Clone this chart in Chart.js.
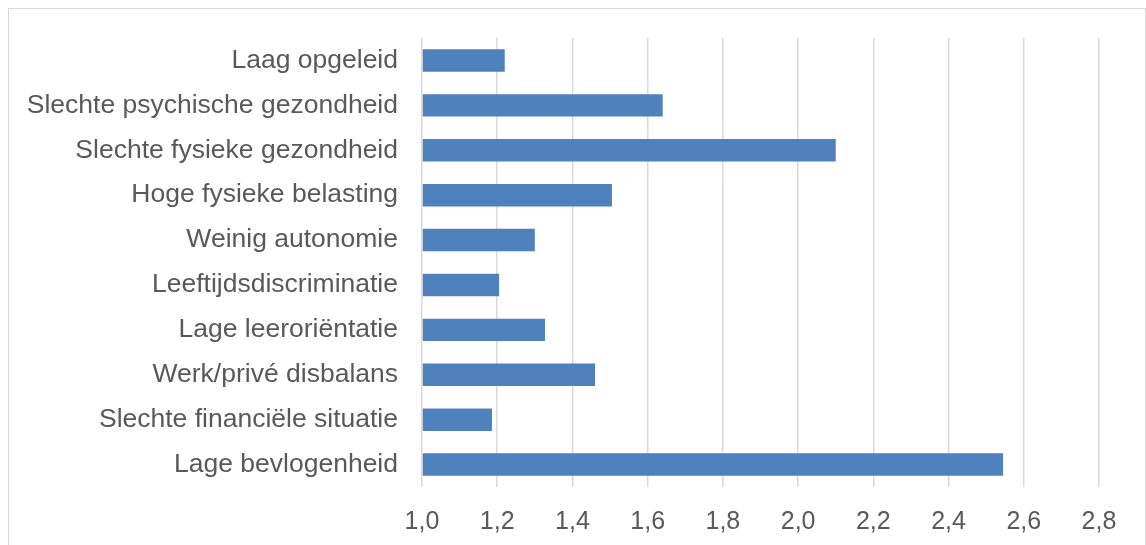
<!DOCTYPE html>
<html>
<head>
<meta charset="utf-8">
<script src="https://cdn.jsdelivr.net/npm/chart.js@4.4.1/dist/chart.umd.min.js"></script>
<style>
    html, body { margin: 0; padding: 0; background: #fff; overflow: hidden; }
    #frame {
        position: absolute; left: 8px; top: 8px;
        width: 1136px; height: 560px;
        border: 1px solid #d9d9d9;
    }
    #chart-box { position: absolute; left: 0; top: 0; width: 1136px; height: 536px; }
</style>
</head>
<body>
<div id="frame">
    <div id="chart-box"><canvas id="riskChart"></canvas></div>
</div>
<script>
// categories, top to bottom as in the picture
const categories = [
    "Laag opgeleid",
    "Slechte psychische gezondheid",
    "Slechte fysieke gezondheid",
    "Hoge fysieke belasting",
    "Weinig autonomie",
    "Leeftijdsdiscriminatie",
    "Lage leeroriëntatie",
    "Werk/privé disbalans",
    "Slechte financiële situatie",
    "Lage bevlogenheid"
];
const values = [1.22, 1.64, 2.10, 1.505, 1.30, 1.205, 1.327, 1.46, 1.186, 2.545];
const xTicks = [1.0, 1.2, 1.4, 1.6, 1.8, 2.0, 2.2, 2.4, 2.6, 2.8];

const textColor = "#595959";
const gridColor = "#d9d9d9";

let ctx = document.getElementById("riskChart").getContext("2d");
new Chart(ctx, {
    type: "bar",
    data: {
        labels: categories,
        datasets: [{
            data: values,
            base: 1,
            backgroundColor: "#4f81bd",
            borderWidth: 0,
            barPercentage: 0.5,
            categoryPercentage: 1.0
        }]
    },
    options: {
        indexAxis: "y",
        responsive: true,
        maintainAspectRatio: false,
        animation: false,
        layout: { padding: { top: 29, right: 46, bottom: 0, left: 0 } },
        plugins: { legend: { display: false }, tooltip: { enabled: false } },
        scales: {
            x: {
                min: 1.0,
                max: 2.8,
                afterBuildTicks: axis => { axis.ticks = xTicks.map(v => ({ value: v })); },
                afterFit: axis => { axis.height = 58; },
                grid: { color: gridColor, lineWidth: 1.5, drawTicks: false },
                border: { display: false },
                ticks: {
                    padding: 20,
                    color: textColor,
                    font: { family: "'Liberation Sans', Arial, sans-serif", size: 25 },
                    callback: v => v.toFixed(1).replace(".", ",")
                }
            },
            y: {
                afterFit: axis => {
                    axis.width = 413;
                    axis.paddingTop = 0;
                    axis.paddingBottom = 0;
                },
                grid: { display: false, drawTicks: false },
                border: { display: false },
                ticks: {
                    padding: 24,
                    color: textColor,
                    font: { family: "'Liberation Sans', Arial, sans-serif", size: 26.5 }
                }
            }
        }
    }
});
</script>
</body>
</html>
